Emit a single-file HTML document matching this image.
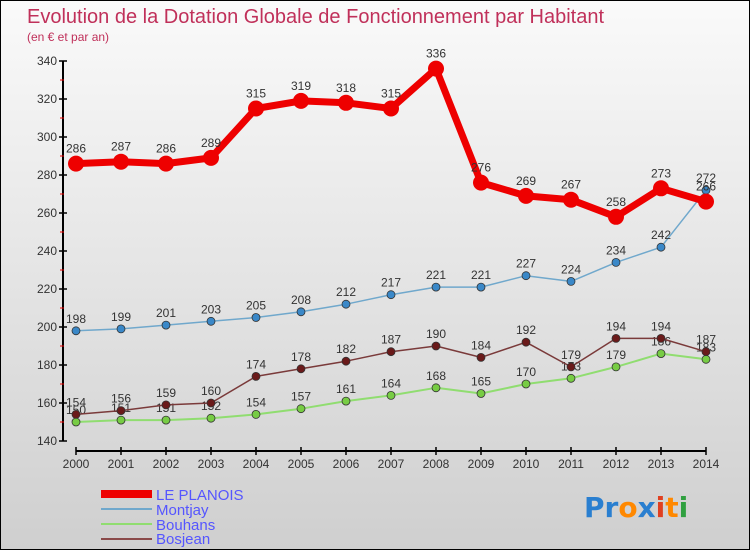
<!DOCTYPE html>
<html><head><meta charset="utf-8"><style>
html,body{margin:0;padding:0}
body{width:750px;height:550px;overflow:hidden;font-family:"Liberation Sans",sans-serif}
#wrap{position:relative;width:748px;height:548px;border:1px solid #000;background:linear-gradient(#fafafa,#cfcfcf)}
</style></head><body>
<div id="wrap">
<svg id="chart" width="748" height="548" style="position:absolute;left:0;top:0">
<text x="26" y="22" font-size="20" fill="#c0305a">Evolution de la Dotation Globale de Fonctionnement par Habitant</text>
<text x="26" y="40" font-size="12" fill="#c0305a">(en € et par an)</text>
<g id="axes"></g><g id="series"></g>
<g>
<rect x="100" y="489" width="51" height="8" fill="#e00"/>
<text x="155" y="499" font-size="15" fill="#5555ff">LE PLANOIS</text>
<rect x="100" y="507" width="51" height="2" fill="#70a8cc"/>
<text x="155" y="514" font-size="15" fill="#5555ff">Montjay</text>
<rect x="100" y="522" width="51" height="2" fill="#90dd70"/>
<text x="155" y="529" font-size="15" fill="#5555ff">Bouhans</text>
<rect x="100" y="537" width="51" height="2" fill="#8a4a4a"/>
<text x="155" y="543" font-size="15" fill="#5555ff">Bosjean</text>
</g>
<g font-size="28" font-weight="bold" font-family="'DejaVu Sans',sans-serif">
<text x="583" y="516"><tspan fill="#2a7fd0">Pr</tspan><tspan fill="#ff8800">o</tspan><tspan fill="#2a7fd0">x</tspan><tspan fill="#e04020">i</tspan><tspan fill="#ff8800">t</tspan><tspan fill="#30a040">i</tspan></text>
</g>
</svg>
</div>
<script>
const years=[2000,2001,2002,2003,2004,2005,2006,2007,2008,2009,2010,2011,2012,2013,2014];
const yTicks=[140,160,180,200,220,240,260,280,300,320,340];
const planois=[286,287,286,289,315,319,318,315,336,276,269,267,258,273,266];
const montjay=[198,199,201,203,205,208,212,217,221,221,227,224,234,242,272];
const bouhans=[150,151,151,152,154,157,161,164,168,165,170,173,179,186,183];
const bosjean=[154,156,159,160,174,178,182,187,190,184,192,179,194,194,187];
const NS="http://www.w3.org/2000/svg";
function X(i){return 75+i*45;}
function Y(v){return 440-(v-140)*1.9;}
function mk(tag,attrs,parent){const e=document.createElementNS(NS,tag);for(const k in attrs)e.setAttribute(k,attrs[k]);parent.appendChild(e);return e;}
const axes=document.getElementById('axes');
const yl=mk('line',{x1:62,y1:Y(340),x2:62,y2:Y(140),stroke:'#000','stroke-width':2},axes);


yTicks.forEach((t,i)=>{
 mk('line',{x1:58,y1:Y(t),x2:66,y2:Y(t),stroke:'#000','stroke-width':1.5},axes);
 if(i<yTicks.length-1) mk('line',{x1:59,y1:Y(t+10),x2:63,y2:Y(t+10),stroke:'#e00','stroke-width':1},axes);
 const tx=mk('text',{x:56,y:Y(t)+4,'font-size':12,fill:'#333','text-anchor':'end'},axes);
 tx.textContent=t;
 
 
});
const xl=mk('line',{x1:75,y1:450,x2:X(14),y2:450,stroke:'#000','stroke-width':2},axes);


years.forEach((y,i)=>{
 mk('line',{x1:X(i),y1:446,x2:X(i),y2:454,stroke:'#000','stroke-width':1.5},axes);
 const tx=mk('text',{x:X(i),y:467,'font-size':12,fill:'#333','text-anchor':'middle'},axes);
 tx.textContent=y;
 
 
});
const sg=document.getElementById('series');
function series(vals,name,color,w,r,dot){
 const g=mk('g',{},sg);
 
 
 const pts=vals.map((v,i)=>X(i)+','+Y(v)).join(' ');
 const pl=mk('polyline',{points:pts,fill:'none',stroke:color,'stroke-width':w,'stroke-linejoin':'round'},g);
 
 
 vals.forEach((v,i)=>{
  const c=mk('circle',{cx:X(i),cy:Y(v),r:r,fill:dot,stroke:'#333','stroke-width':r>5?0:0.8},g);
  
  
  const t=mk('text',{x:X(i),y:Y(v)-(r>5?11:8),'font-size':12,fill:'#333','text-anchor':'middle'},g);
  t.textContent=v;
  
  
 });
}
series(bouhans,'bouhans','#90dd70',2,4,'#77cc44');
series(bosjean,'bosjean','#7a3a3a',1.5,4,'#6a1a1a');
series(montjay,'montjay','#70a8cc',1.5,4,'#3a88c8');
series(planois,'le-planois','#ee0000',7,8,'#ee0000');
</script>
</body></html>
